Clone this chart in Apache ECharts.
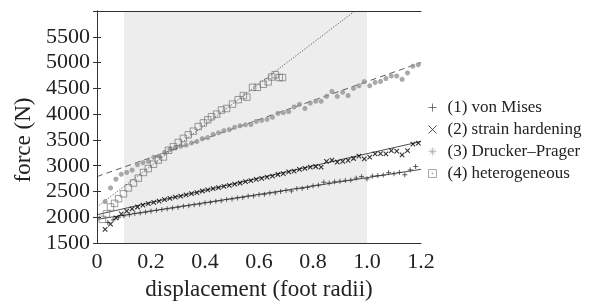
<!DOCTYPE html>
<html>
<head>
<meta charset="utf-8">
<script src="https://cdn.jsdelivr.net/npm/echarts@6/dist/echarts.min.js"></script>
<style>
html,body{margin:0;padding:0;background:#fff;}
#chart{width:596px;height:306px;}
</style>
</head>
<body>
<div id="chart"></div>
<script>
// ---- data ----
const seriesNames = ['(1) von Mises', '(2) strain hardening', '(3) Drucker\u2013Prager', '(4) heterogeneous'];
const xTickLabels = ['0', '0.2', '0.4', '0.6', '0.8', '1.0', '1.2'];
const yTickLabels = ['1500', '2000', '2500', '3000', '3500', '4000', '4500', '5000', '5500'];
const shadedRange = [0.1, 1.0];

const vonMisesX = [0.04,0.06,0.08,0.10,0.12,0.14,0.16,0.18,0.20,0.22,0.24,0.26,0.28,0.30,0.32,0.34,0.36,0.38,0.40,0.42,0.44,0.46,0.48,0.50,0.52,0.54,0.56,0.58,0.60,0.62,0.64,0.66,0.68,0.70,0.72,0.74,0.76,0.78,0.80,0.82,0.84,0.86,0.88,0.90,0.92,0.94,0.96,0.98,1.00,1.02,1.04,1.06,1.08,1.10,1.12,1.14,1.16,1.18];
const vonMisesY = [1900,1950,2000,2030,2050,2075,2085,2100,2120,2135,2150,2165,2180,2195,2215,2225,2245,2255,2280,2290,2310,2320,2345,2355,2375,2385,2410,2415,2440,2445,2470,2475,2500,2520,2510,2555,2560,2580,2610,2625,2680,2665,2690,2700,2715,2720,2760,2790,2745,2800,2810,2820,2865,2845,2870,2825,2920,2985];

const hardeningX = [0.03,0.05,0.07,0.09,0.11,0.13,0.15,0.17,0.19,0.21,0.23,0.25,0.27,0.29,0.31,0.33,0.35,0.37,0.39,0.41,0.43,0.45,0.47,0.49,0.51,0.53,0.55,0.57,0.59,0.61,0.63,0.65,0.67,0.69,0.71,0.73,0.75,0.77,0.79,0.81,0.83,0.85,0.87,0.89,0.91,0.93,0.95,0.97,0.99,1.01,1.03,1.05,1.07,1.09,1.11,1.13,1.15,1.17,1.19];
const hardeningY = [1765,1870,1990,2065,2120,2165,2200,2235,2265,2290,2315,2345,2365,2390,2410,2435,2460,2480,2510,2530,2555,2575,2600,2620,2645,2665,2690,2710,2735,2755,2780,2800,2830,2845,2880,2895,2930,2950,2975,2985,2975,3085,3110,3070,3085,3105,3140,3185,3135,3165,3230,3235,3230,3295,3285,3210,3295,3420,3440];

const druckerX = [0.03,0.05,0.07,0.09,0.11,0.13,0.15,0.17,0.19,0.21,0.23,0.25,0.27,0.29,0.31,0.33,0.35,0.37,0.39,0.41,0.43,0.45,0.47,0.49,0.51,0.53,0.55,0.57,0.59,0.61,0.63,0.65,0.67,0.69,0.71,0.73,0.75,0.77,0.79,0.81,0.83,0.85,0.87,0.89,0.91,0.93,0.95,0.97,0.99,1.01,1.03,1.05,1.07,1.09,1.11,1.13,1.15,1.17,1.19];
const druckerY = [2305,2570,2740,2835,2870,2915,3020,3060,3085,3165,3185,3260,3320,3355,3380,3400,3440,3470,3525,3545,3605,3640,3680,3700,3745,3775,3795,3800,3860,3880,3900,3940,4015,4030,4050,4140,4190,4110,4215,4250,4250,4345,4440,4345,4425,4360,4500,4550,4630,4550,4615,4635,4690,4740,4740,4675,4800,4930,4960];

const heteroX = [0.02,0.035,0.05,0.065,0.08,0.098,0.116,0.135,0.153,0.172,0.19,0.209,0.227,0.246,0.265,0.283,0.301,0.32,0.338,0.357,0.375,0.394,0.41,0.424,0.443,0.461,0.48,0.502,0.523,0.542,0.555,0.576,0.594,0.616,0.634,0.647,0.66,0.675,0.687];
const heteroY = [1960,2065,2200,2270,2360,2455,2570,2665,2760,2870,2945,3030,3110,3170,3300,3370,3450,3530,3600,3670,3760,3830,3890,3950,4000,4080,4110,4195,4280,4360,4330,4520,4520,4580,4625,4720,4765,4710,4710];

// fitted lines (end points)
const vonMisesFitX = [0, 1.2];
const vonMisesFitY = [1960, 2930];
const hardeningFitX = [0, 1.2];
const hardeningFitY = [2050, 3470];
const druckerFitX = [0, 1.2];
const druckerFitY = [2790, 5000];
const heteroFitX = [0, 0.955];
const heteroFitY = [2200, 6000];

// ---- chart ----
const zip = (xs, ys) => xs.map((x, i) => [x, ys[i]]);
const FONT = 'Liberation Serif';
const TXT = '#222';

const SYM_PLUS = 'path://M0,5L10,5M5,0L5,10';
const SYM_CROSS = 'path://M0,0L10,10M10,0L0,10';
const SYM_STAR = 'path://M0,5L10,5M5,0L5,10M1.5,1.5L8.5,8.5M8.5,1.5L1.5,8.5';
const SYM_SQ = 'path://M0,0L10,0L10,10L0,10Z';
const SYM_SQDOT = 'path://M0,0L10,0L10,10L0,10ZM4.5,4.5L5.5,4.5L5.5,5.5L4.5,5.5Z';

const chart = echarts.init(document.getElementById('chart'), null, {renderer: 'canvas'});

const fitLine = (name, xs, ys, type, color) => ({
  name: name, type: 'line', data: zip(xs, ys), symbol: 'none', silent: true, z: 4,
  lineStyle: {color: color, width: 0.8, type: type}
});

chart.setOption({
  animation: false,
  backgroundColor: '#fff',
  grid: {left: 97, right: 175, top: 11, bottom: 56, show: false},
  legend: {
    orient: 'vertical', left: 421, top: 94, itemGap: 5,
    itemWidth: 8, itemHeight: 8,
    textStyle: {fontFamily: FONT, fontSize: 17, color: TXT, lineHeight: 17, padding: [0, 0, 0, 6]},
    data: [
      {name: seriesNames[0], icon: SYM_PLUS, itemStyle: {color: 'none', borderColor: '#444', borderWidth: 0.9}},
      {name: seriesNames[1], icon: SYM_CROSS, itemStyle: {color: 'none', borderColor: '#111', borderWidth: 0.9}},
      {name: seriesNames[2], icon: SYM_STAR, itemStyle: {color: 'none', borderColor: '#aaa', borderWidth: 0.9}},
      {name: seriesNames[3], icon: SYM_SQDOT, itemStyle: {color: 'none', borderColor: '#777', borderWidth: 0.8}}
    ]
  },
  xAxis: [{
    type: 'value', min: 0, max: 1.2, interval: 0.2, position: 'bottom',
    name: 'displacement (foot radii)', nameLocation: 'middle', nameGap: 30,
    nameTextStyle: {fontFamily: FONT, fontSize: 23, color: TXT},
    axisLine: {show: true, lineStyle: {color: '#333', width: 1}},
    axisTick: {show: false},
    splitLine: {show: false},
    axisLabel: {fontFamily: FONT, fontSize: 22, color: TXT, margin: 8,
      formatter: v => xTickLabels[Math.round(v / 0.2)] || ''}
  }, {
    type: 'value', min: 0, max: 1.2, interval: 0.2, position: 'top', z: 10,
    axisLine: {show: true, onZero: false, lineStyle: {color: '#333', width: 1}},
    axisTick: {show: false}, axisLabel: {show: false}, splitLine: {show: false}
  }],
  yAxis: [{
    type: 'value', min: 1500, max: 6000, interval: 500, position: 'left', z: 10,
    name: 'force (N)', nameLocation: 'middle', nameGap: 62,
    nameTextStyle: {fontFamily: FONT, fontSize: 23, color: TXT, padding: [0, 26, 0, 0]},
    axisLine: {show: true, lineStyle: {color: '#333', width: 1}},
    axisTick: {show: true, inside: true, length: 4, lineStyle: {color: '#333'}},
    splitLine: {show: false},
    axisLabel: {fontFamily: FONT, fontSize: 22, color: TXT, margin: 7,
      formatter: v => { const i = Math.round((v - 1500) / 500); return yTickLabels[i] || ''; }}
  }, {
    type: 'value', min: 1500, max: 6000, interval: 500, position: 'right', z: 10,
    axisLine: {show: true, lineStyle: {color: '#333', width: 1}},
    axisTick: {show: true, inside: true, length: 4, lineStyle: {color: '#333'}},
    axisLabel: {show: false}, splitLine: {show: false}
  }],
  series: [
    {
      name: 'shade', type: 'line', data: [], silent: true, z: 1,
      markArea: {silent: true, itemStyle: {color: '#ededed'},
        data: [[{xAxis: shadedRange[0], yAxis: 1500}, {xAxis: shadedRange[1], yAxis: 6000}]]}
    },
    fitLine('fit1', vonMisesFitX, vonMisesFitY, 'solid', '#222'),
    fitLine('fit2', hardeningFitX, hardeningFitY, 'solid', '#222'),
    fitLine('fit3', druckerFitX, druckerFitY, [6, 4], '#333'),
    fitLine('fit4', heteroFitX, heteroFitY, [1.2, 1.6], '#333'),
    {
      name: seriesNames[0], type: 'scatter', data: zip(vonMisesX, vonMisesY), z: 5,
      symbol: SYM_PLUS, symbolSize: 5,
      itemStyle: {color: 'none', borderColor: '#3a3a3a', borderWidth: 1}
    },
    {
      name: seriesNames[1], type: 'scatter', data: zip(hardeningX, hardeningY), z: 5,
      symbol: SYM_CROSS, symbolSize: 4.5,
      itemStyle: {color: 'none', borderColor: '#000', borderWidth: 1.1}
    },
    {
      name: seriesNames[2], type: 'scatter', data: zip(druckerX, druckerY), z: 5,
      symbol: SYM_STAR, symbolSize: 5,
      itemStyle: {color: 'none', borderColor: '#939393', borderWidth: 1.6}
    },
    {
      name: seriesNames[3], type: 'scatter', data: zip(heteroX, heteroY), z: 5,
      symbol: SYM_SQ, symbolSize: 6.5,
      itemStyle: {color: 'none', borderColor: '#666', borderWidth: 0.8}
    }
  ]
});
</script>
</body>
</html>
